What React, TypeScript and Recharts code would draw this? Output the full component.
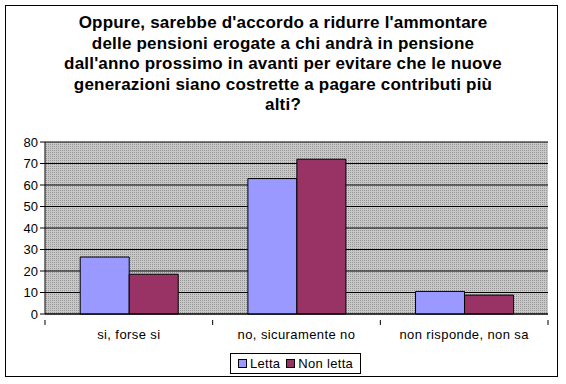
import * as React from 'react';
import { Bar, BarChart, CartesianGrid, XAxis, YAxis } from 'recharts';

// Survey answers and percentages per group
const categories = ['si, forse si', 'no, sicuramente no', 'non risponde, non sa'];
const seriesNames = ['Letta', 'Non letta'];
const seriesColors = ['#9999FF', '#993366'];
const lettaValues = [26.5, 63, 10.5];
const nonLettaValues = [18.5, 72, 8.8];
const yTicks = [0, 10, 20, 30, 40, 50, 60, 70, 80];

const titleLines = [
    "Oppure, sarebbe d'accordo a ridurre l'ammontare",
    'delle pensioni erogate a chi andrà in pensione',
    "dall'anno prossimo in avanti per evitare che le nuove",
    'generazioni siano costrette a pagare contributi più',
    'alti?',
];

const FONT = '"Liberation Sans", Arial, sans-serif';
const WIDTH = 566;
const HEIGHT = 384;
const MARGIN = { top: 142, right: 18, bottom: 0, left: 5 };
const Y_AXIS_WIDTH = 40;
const X_AXIS_HEIGHT = 70;
const PLOT_WIDTH = WIDTH - MARGIN.left - MARGIN.right - Y_AXIS_WIDTH;

/** Category label at band centre, with tick marks on the band edges (Excel style). */
function CategoryTick(props: any) {
    const { x, y, payload, index } = props;
    const half = PLOT_WIDTH / categories.length / 2;
    return (
        <g>
            <line x1={x - half} y1={y - 2} x2={x - half} y2={y + 3} stroke="#000" />
            {index === categories.length - 1 && (
                <line x1={x + half} y1={y - 2} x2={x + half} y2={y + 3} stroke="#000" />
            )}
            <text x={x} y={y + 17} textAnchor="middle" fontSize={13} letterSpacing={0.4} fontFamily={FONT} fill="#000">
                {payload.value}
            </text>
        </g>
    );
}

export default function App() {
    const data = categories.map((name, i) => ({
        name,
        letta: lettaValues[i],
        nonLetta: nonLettaValues[i],
    }));

    return (
        <div style={{ position: 'absolute', left: 0, top: 0, width: WIDTH, height: HEIGHT, background: '#fff' }}>
            {/* outer chart border */}
            <div
                style={{
                    position: 'absolute',
                    left: 5,
                    top: 5,
                    width: 553,
                    height: 372,
                    border: '1px solid #000',
                    boxSizing: 'border-box',
                }}
            />
            <div style={{ position: 'absolute', left: 0, top: 0 }}>
                <BarChart width={WIDTH} height={HEIGHT} data={data} margin={MARGIN} barCategoryGap="21%" barGap={0}>
                    <defs>
                        <pattern id="dots" width="2" height="2" patternUnits="userSpaceOnUse">
                            <rect width="2" height="2" fill="#c8c8c8" />
                            <rect width="1" height="1" fill="#969696" />
                        </pattern>
                    </defs>
                    <CartesianGrid fill="url(#dots)" stroke="#000" vertical={false} fillOpacity={1} />
                    <XAxis
                        dataKey="name"
                        axisLine={{ stroke: '#000' }}
                        tickLine={false}
                        tick={<CategoryTick />}
                        interval={0}
                        height={X_AXIS_HEIGHT}
                    />
                    <YAxis
                        width={Y_AXIS_WIDTH}
                        domain={[0, 80]}
                        ticks={yTicks}
                        interval={0}
                        axisLine={{ stroke: '#000' }}
                        tickLine={{ stroke: '#000' }}
                        tickSize={5}
                        tick={{ fontSize: 13, fontFamily: FONT, fill: '#000' }}
                    />
                    <Bar dataKey="letta" name={seriesNames[0]} fill={seriesColors[0]} stroke="#000" isAnimationActive={false} />
                    <Bar dataKey="nonLetta" name={seriesNames[1]} fill={seriesColors[1]} stroke="#000" isAnimationActive={false} />
                </BarChart>
            </div>
            <div
                style={{
                    position: 'absolute',
                    left: 0,
                    top: 13,
                    width: WIDTH,
                    textAlign: 'center',
                    fontFamily: FONT,
                    fontWeight: 700,
                    fontSize: 17,
                    letterSpacing: 0.2,
                    lineHeight: '20.5px',
                    color: '#000',
                }}
            >
                {titleLines.map((line) => (
                    <div key={line}>{line}</div>
                ))}
            </div>
            {/* legend */}
            <div
                style={{
                    position: 'absolute',
                    left: 230,
                    top: 353,
                    width: 131,
                    height: 21,
                    boxSizing: 'border-box',
                    display: 'flex',
                    alignItems: 'center',
                    justifyContent: 'center',
                    border: '1px solid #000',
                    background: '#fff',
                    fontFamily: FONT,
                    fontSize: 13,
                    letterSpacing: 0.3,
                    gap: 6,
                }}
            >
                {seriesNames.map((name, i) => (
                    <span key={name} style={{ display: 'inline-flex', alignItems: 'center', gap: 3 }}>
                        <span
                            style={{
                                width: 7,
                                height: 7,
                                border: '1px solid #000',
                                background: seriesColors[i],
                                display: 'inline-block',
                            }}
                        />
                        {name}
                    </span>
                ))}
            </div>
        </div>
    );
}
